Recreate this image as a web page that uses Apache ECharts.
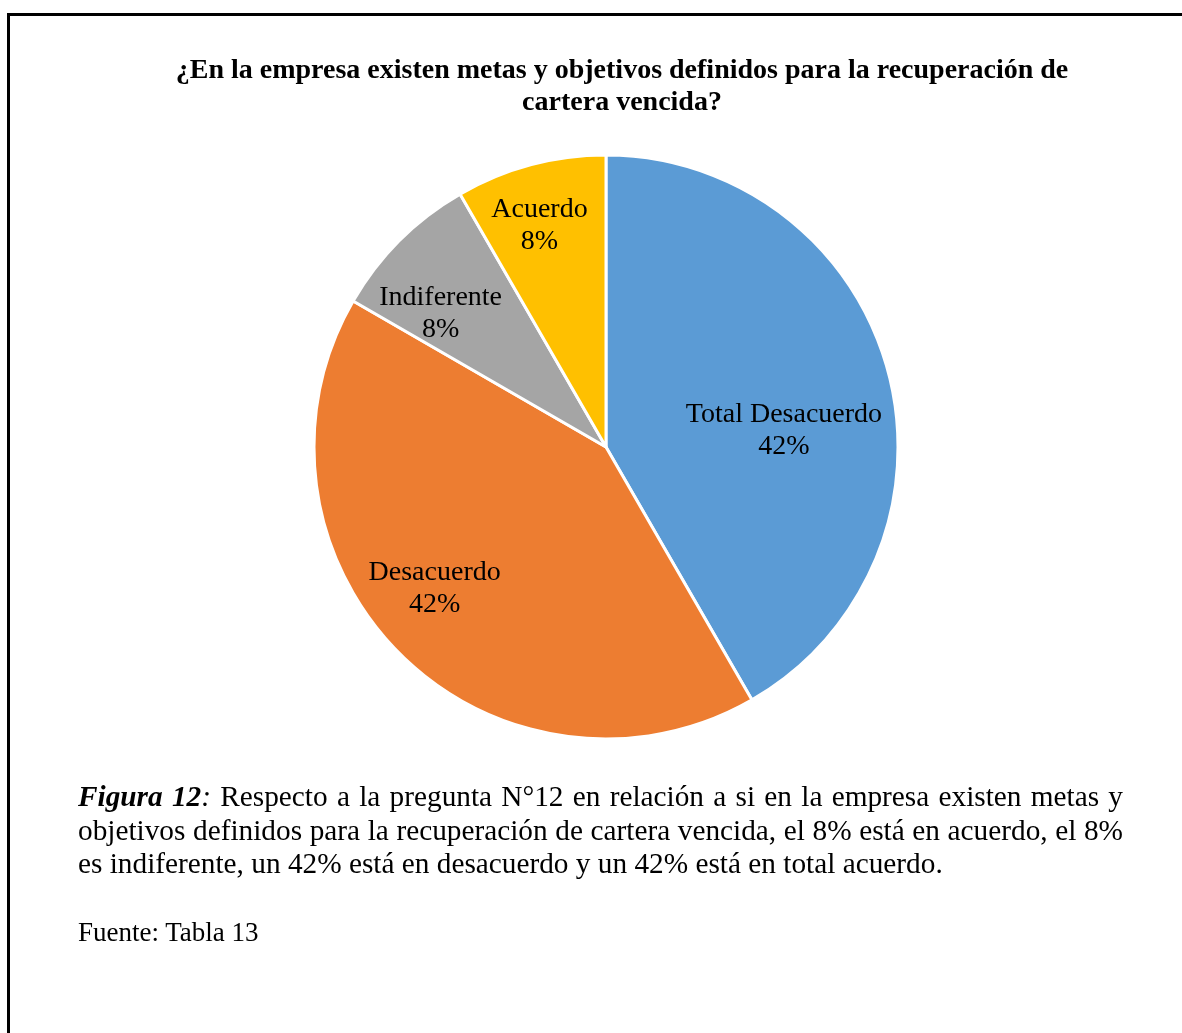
<!DOCTYPE html>
<html>
<head>
<meta charset="utf-8">
<script src="https://cdn.jsdelivr.net/npm/echarts@6/dist/echarts.min.js"></script>
<style>
  html, body { margin: 0; padding: 0; background: #fff; }
  #frame {
    position: absolute; left: 7px; top: 13px; width: 1200px; height: 1100px;
    border-left: 3px solid #000; border-top: 3px solid #000;
  }
  #chart { position: absolute; left: 0; top: 0; width: 1182px; height: 1033px; }
  .caption {
    position: absolute; left: 78px; width: 1045px; top: 780px;
    font-family: "Liberation Serif", "Times New Roman", serif;
    font-size: 29.3px; line-height: 33.5px; color: #000;
  }
  .caption .row { text-align: justify; text-align-last: justify; white-space: nowrap; }
  .caption .row.last { text-align-last: left; }
  .source {
    position: absolute; left: 78px; top: 917px;
    font-family: "Liberation Serif", "Times New Roman", serif;
    font-size: 27px; line-height: 30px; color: #000;
  }
</style>
</head>
<body>
<div id="frame"></div>
<div id="chart"></div>
<div class="caption">
  <div class="row"><b><i>Figura 12</i></b><i>:</i> Respecto a la pregunta N°12 en relación a si en la empresa existen metas y</div>
  <div class="row">objetivos definidos para la recuperación de cartera vencida, el 8% está en acuerdo, el 8%</div>
  <div class="row last">es indiferente, un 42% está en desacuerdo y un 42% está en total acuerdo.</div>
</div>
<div class="source">Fuente: Tabla 13</div>
<script>
// respuestas (frecuencia)
const categories = ['Total Desacuerdo', 'Desacuerdo', 'Indiferente', 'Acuerdo'];
const counts = [5, 5, 1, 1];
const colors = ['#5B9BD5', '#ED7D31', '#A5A5A5', '#FFC000'];
// desplazamiento de etiquetas (como en Excel)
const labelShift = [[34, 22], [-66, 36], [-60, -28], [-28, -77]];

const chart = echarts.init(document.getElementById('chart'));
chart.setOption({
  animation: false,
  title: {
    text: '¿En la empresa existen metas y objetivos definidos para la recuperación de\ncartera vencida?',
    left: 617,
    top: 50,
    textAlign: 'center',
    textStyle: {
      fontFamily: 'Liberation Serif',
      fontWeight: 'bold',
      fontSize: 28,
      lineHeight: 32,
      color: '#000'
    }
  },
  series: [
    {
      type: 'pie',
      center: [606, 447],
      radius: 292,
      startAngle: 90,
      percentPrecision: 0,
      itemStyle: {
        borderColor: '#fff',
        borderWidth: 3
      },
      label: {
        position: 'inside',
        formatter: '{b}\n{d}%',
        fontFamily: 'Liberation Serif',
        fontSize: 28,
        lineHeight: 32,
        color: '#000'
      },
      labelLine: { show: false },
      labelLayout: function (params) {
        const s = labelShift[params.dataIndex];
        return { dx: s[0], dy: s[1] };
      },
      data: categories.map(function (name, i) {
        return { name: name, value: counts[i], itemStyle: { color: colors[i] } };
      })
    }
  ]
});
</script>
</body>
</html>
